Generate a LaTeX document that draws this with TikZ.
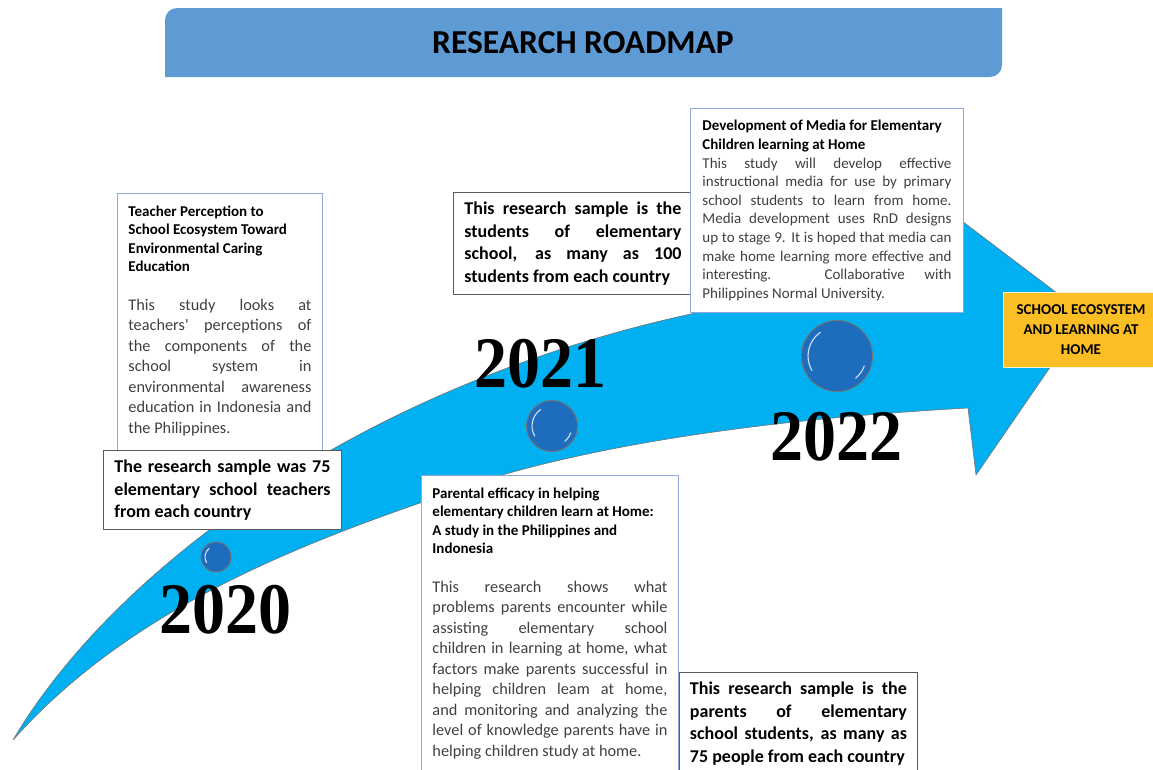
\documentclass[tikz,border=0pt]{standalone}
\usepackage{fontspec}
\setmainfont{Carlito}
\newfontfamily\yearfont{Liberation Serif}
\tolerance=10000
\hbadness=10000

\definecolor{titleblue}{RGB}{94,155,213}
\definecolor{bandcyan}{RGB}{0,176,240}
\definecolor{stoneblue}{RGB}{30,108,190}
\definecolor{boxblue}{RGB}{142,169,219}
\definecolor{sampleedge}{RGB}{90,90,90}
\definecolor{goldfill}{RGB}{251,190,36}
\definecolor{bodygray}{RGB}{64,64,64}

\newcommand{\roadhead}{\bfseries\fontsize{15}{18.5}\selectfont\color{black}}
\newcommand{\roadbody}{\fontsize{16.3}{20.5}\selectfont\color{bodygray}}
\newcommand{\roadsmall}{\fontsize{15}{18.6}\selectfont\color{bodygray}}

\tikzset{
    topicbox/.style={draw=boxblue, line width=0.9pt, fill=white, anchor=north west, inner xsep=11pt, inner ysep=12pt, align=justify},
    samplebox/.style={draw=sampleedge, line width=0.9pt, fill=white, anchor=north west, inner xsep=11pt, inner ysep=9.5pt, align=justify, font=\bfseries\fontsize{18}{22.5}\selectfont},
    goalbox/.style={draw=white!80!goldfill, line width=1pt, fill=goldfill, minimum width=156pt, minimum height=75pt, align=center, font=\bfseries\fontsize{15}{20}\selectfont},
    yearlabel/.style={font=\yearfont\bfseries\fontsize{66}{66}\selectfont, yscale=1.1},
    stone/.style={circle, draw=black!55, line width=0.9pt, fill=stoneblue, inner sep=0pt},
    glint/.style={white!80!stoneblue, line width=1.1pt, line cap=round},
    band/.style={fill=bandcyan, draw=black!55, line width=0.6pt}
}

\begin{document}
\begin{tikzpicture}[x=1pt, y=-1pt]
            \useasboundingbox (0,0) rectangle (1153,769);
            \clip (0,0) rectangle (1153,769);
            \fill[titleblue] (165,77) -- (165,20) arc (180:270:12) -- (1002,8) -- (1002,65) arc (0:90:12) -- cycle;
            \node[font=\bfseries\fontsize{33.5}{33.5}\selectfont] (roadmap) at (583,43) {RESEARCH ROADMAP};
            \draw[band] (13,740) .. controls (110,575) and (355,385) .. (700,312)
                .. controls (800,288) and (880,270) .. (950,258) -- (950,212) -- (1086,315) -- (976,475) -- (968,408)
                .. controls (750,420) and (550,450) .. (420,503)
                .. controls (270,555) and (120,620) .. (13,740) -- cycle;
            \node[stone, minimum size=30pt] (dot2020) at (216,557) {};
            \node[stone, minimum size=51pt] (dot2021) at (552,426) {};
            \node[stone, minimum size=71pt] (dot2022) at (837,356) {};
            \draw[glint] (dot2020.center) ++(150:11) arc (150:230:11);
            \draw[glint] (dot2021.center) ++(150:20) arc (150:235:20);
            \draw[glint] (dot2021.center) ++(20:20) arc (20:50:20);
            \draw[glint] (dot2022.center) ++(150:29) arc (150:235:29);
            \draw[glint] (dot2022.center) ++(20:29) arc (20:50:29);
            \node[yearlabel] (y2020) at (225,610) {2020};
            \node[yearlabel] (y2021) at (540,364) {2021};
            \node[yearlabel] (y2022) at (836,437) {2022};
            \node[topicbox, text width=183pt] (perception) at (117,193) {{\roadhead Teacher Perception to\\ School Ecosystem Toward\\ Environmental Caring\\ Education\par}\vspace{18pt}{\roadbody This study looks at\linebreak teachers\textquotesingle\ perceptions of\linebreak the components of the\linebreak school system in\linebreak environmental awareness\linebreak education in Indonesia and\linebreak the Philippines.\par\rule{0pt}{12pt}}};
            \node[samplebox, text width=216pt] (teachers) at (103,450) {The research sample was 75\linebreak elementary school teachers\linebreak from each country};
            \node[samplebox, text width=217pt] (students) at (453,192) {This research sample is the\linebreak students of elementary\linebreak school, as many as 100\linebreak students from each country};
            \node[topicbox, inner xsep=12pt, text width=249pt] (media) at (690,108) {{\roadhead Development of Media for Elementary\\ Children learning at Home\par}{\roadsmall This study will develop effective\linebreak instructional media for use by primary\linebreak school students to learn from home.\linebreak Media development uses RnD designs\linebreak up to stage 9. It is hoped that media can\linebreak make home learning more effective and\linebreak interesting. Collaborative with\linebreak Philippines Normal University.\par}};
            \node[topicbox, text width=235pt] (efficacy) at (421,475) {{\roadhead Parental efficacy in helping\\ elementary children learn at Home:\\ A study in the Philippines and\\ Indonesia\par}\vspace{18pt}{\roadbody This research shows what\linebreak problems parents encounter while\linebreak assisting elementary school\linebreak children in learning at home, what\linebreak factors make parents successful in\linebreak helping children leam at home,\linebreak and monitoring and analyzing the\linebreak level of knowledge parents have in\linebreak helping children study at home.\par\rule{0pt}{40pt}}};
            \node[samplebox, inner xsep=10.5pt, text width=217pt] (parents) at (679,672) {This research sample is the\linebreak parents of elementary\linebreak school students, as many as\linebreak 75 people from each country\par\rule{0pt}{40pt}};
            \node[goalbox] (goal) at (1081,330) {SCHOOL ECOSYSTEM\\ AND LEARNING AT\\ HOME};
\end{tikzpicture}
\end{document}
